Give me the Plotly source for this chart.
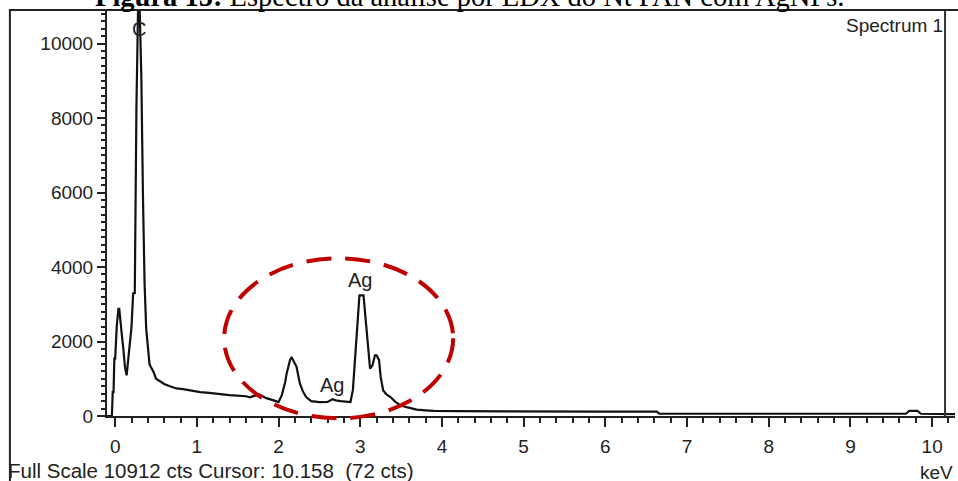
import plotly.graph_objects as go

# EDS spectrum (energy in keV, counts)
energy_kev = [-0.10, -0.04, -0.03, -0.02, -0.01, 0.00, 0.02, 0.04, 0.05, 0.06, 0.08, 0.10,
              0.12, 0.14, 0.16, 0.18, 0.20, 0.22, 0.24, 0.26, 0.28, 0.30, 0.32, 0.34, 0.36,
              0.38, 0.40, 0.42, 0.44, 0.47, 0.50, 0.55, 0.60, 0.67, 0.75, 0.83, 0.92, 1.04,
              1.15, 1.25, 1.32, 1.40, 1.45, 1.53, 1.60, 1.65, 1.70, 1.77, 1.85, 1.94, 2.00,
              2.04, 2.08, 2.10, 2.14, 2.16, 2.18, 2.22, 2.26, 2.30, 2.34, 2.40, 2.50, 2.60,
              2.66, 2.70, 2.76, 2.84, 2.88, 2.91, 2.94, 2.97, 2.99, 3.04, 3.06, 3.09, 3.12,
              3.15, 3.18, 3.20, 3.23, 3.25, 3.28, 3.32, 3.37, 3.43, 3.49, 3.58, 3.69, 3.80,
              3.90, 4.20, 4.50, 4.80, 5.00, 5.30, 5.60, 6.00, 6.40, 6.63, 6.66, 7.00, 7.50,
              8.00, 8.50, 8.60, 9.00, 9.50, 9.68, 9.72, 9.82, 9.86, 10.00, 10.28]
counts = [0, 0, 640, 640, 1540, 1540, 2430, 2880, 2880, 2560, 2210, 1800,
          1310, 1090, 1580, 1850, 2390, 3290, 3300, 8250, 10912, 10912, 9150, 5920, 3550,
          2340, 1760, 1400, 1300, 1180, 1000, 930, 860, 800, 740, 720, 680, 640,
          620, 590, 570, 560, 555, 550, 530, 500, 540, 570, 480, 420, 375,
          560, 900, 1150, 1500, 1580, 1500, 1320, 880, 650, 500, 400, 375, 380,
          450, 420, 400, 380, 376, 700, 1600, 2390, 3240, 3240, 2790, 2120, 1270,
          1360, 1630, 1630, 1500, 1050, 690, 580, 510, 380, 290, 230, 170, 150,
          135, 130, 125, 135, 120, 125, 115, 115, 115, 115, 65, 70, 60,
          60, 60, 75, 55, 55, 60, 140, 140, 60, 60, 50]

x_range = [-0.1, 10.28]
y_range = [0, 10900]
x_tick_step = 1
y_tick_step = 2000
cursor_kev = 10.158
peak_labels = [("C", 0.29, 10380), ("Ag", 3.0, 3650), ("Ag", 2.65, 830)]
# highlighted region (keV, counts)
ellipse_x = [1.334, 4.137]
ellipse_y = [-62, 4234]

FONT = "Liberation Sans, Arial, sans-serif"
INK = "#222222"

fig = go.Figure()
fig.add_trace(go.Scatter(x=energy_kev, y=counts, mode="lines",
                         line=dict(color="#111111", width=2.2), hoverinfo="skip"))

fig.update_xaxes(range=x_range, tickmode="linear", tick0=0, dtick=x_tick_step,
                 showgrid=False, zeroline=False,
                 showline=True, linecolor=INK, linewidth=2, ticks="outside", ticklen=9,
                 tickwidth=1.5, tickcolor=INK, ticklabelstandoff=3,
                 minor=dict(dtick=0.2, tick0=0, ticks="outside", ticklen=5, tickwidth=1.5,
                            tickcolor=INK, showgrid=False),
                 tickfont=dict(family=FONT, size=19, color=INK))
fig.update_yaxes(range=y_range, tickmode="linear", tick0=0, dtick=y_tick_step,
                 tickformat="d", showgrid=False, zeroline=False,
                 showline=True, linecolor=INK, linewidth=2, ticks="outside", ticklen=8,
                 tickwidth=1.5, tickcolor=INK,
                 minor=dict(dtick=200, tick0=0, ticks="outside", ticklen=4, tickwidth=1.5,
                            tickcolor=INK, showgrid=False),
                 tickfont=dict(family=FONT, size=19, color=INK))

# red dashed ellipse around Ag peaks (domain refs so it is not clipped at the axis)
def xfrac(v):
    return (v - x_range[0]) / (x_range[1] - x_range[0])

def yfrac(v):
    return (v - y_range[0]) / (y_range[1] - y_range[0])

fig.add_shape(type="circle", xref="x domain", yref="y domain",
              x0=xfrac(ellipse_x[0]), x1=xfrac(ellipse_x[1]),
              y0=yfrac(ellipse_y[0]), y1=yfrac(ellipse_y[1]),
              line=dict(color="#c00000", width=4, dash="25px,14px"))
# cursor line
fig.add_shape(type="line", xref="x", yref="paper", x0=cursor_kev, x1=cursor_kev, y0=0, y1=1,
              line=dict(color="#333333", width=2))
# outer frame
fig.add_shape(type="rect", xref="paper", yref="paper", x0=-0.1145, x1=1.006, y0=-0.2, y1=1.0,
              line=dict(color=INK, width=2))

for txt, xv, yv in peak_labels:
    fig.add_annotation(x=xv, y=yv, text=txt, showarrow=False,
                       font=dict(family=FONT, size=20, color=INK))

fig.add_annotation(x=cursor_kev, xref="x", xanchor="right", y=0.962, yref="paper",
                   yanchor="middle", text="Spectrum 1", showarrow=False,
                   font=dict(family=FONT, size=19, color=INK))
fig.add_annotation(x=-0.119, xref="paper", xanchor="left", y=-0.134, yref="paper",
                   yanchor="middle", text="Full Scale 10912 cts Cursor: 10.158  (72 cts)",
                   showarrow=False, font=dict(family=FONT, size=20.5, color=INK))
fig.add_annotation(x=1.0, xref="paper", xanchor="right", y=-0.138, yref="paper",
                   yanchor="middle", text="keV", showarrow=False,
                   font=dict(family=FONT, size=19, color=INK))
fig.add_annotation(x=-0.017, xref="paper", xanchor="left", y=1.0, yref="paper",
                   yanchor="bottom", yshift=-4,
                   text="<b>Figura 15:</b> Espectro da análise por EDX do Nt PAN com AgNPs.",
                   showarrow=False,
                   font=dict(family="Liberation Serif, Times New Roman, serif", size=28.5,
                             color="#000000"))

fig.update_layout(width=958, height=481,
                  margin=dict(l=107, r=3, t=10, b=65, autoexpand=False),
                  paper_bgcolor="white", plot_bgcolor="white", showlegend=False)

fig.write_html("out.html", config={"displayModeBar": False},
               post_script="document.body.style.margin='0px';")
